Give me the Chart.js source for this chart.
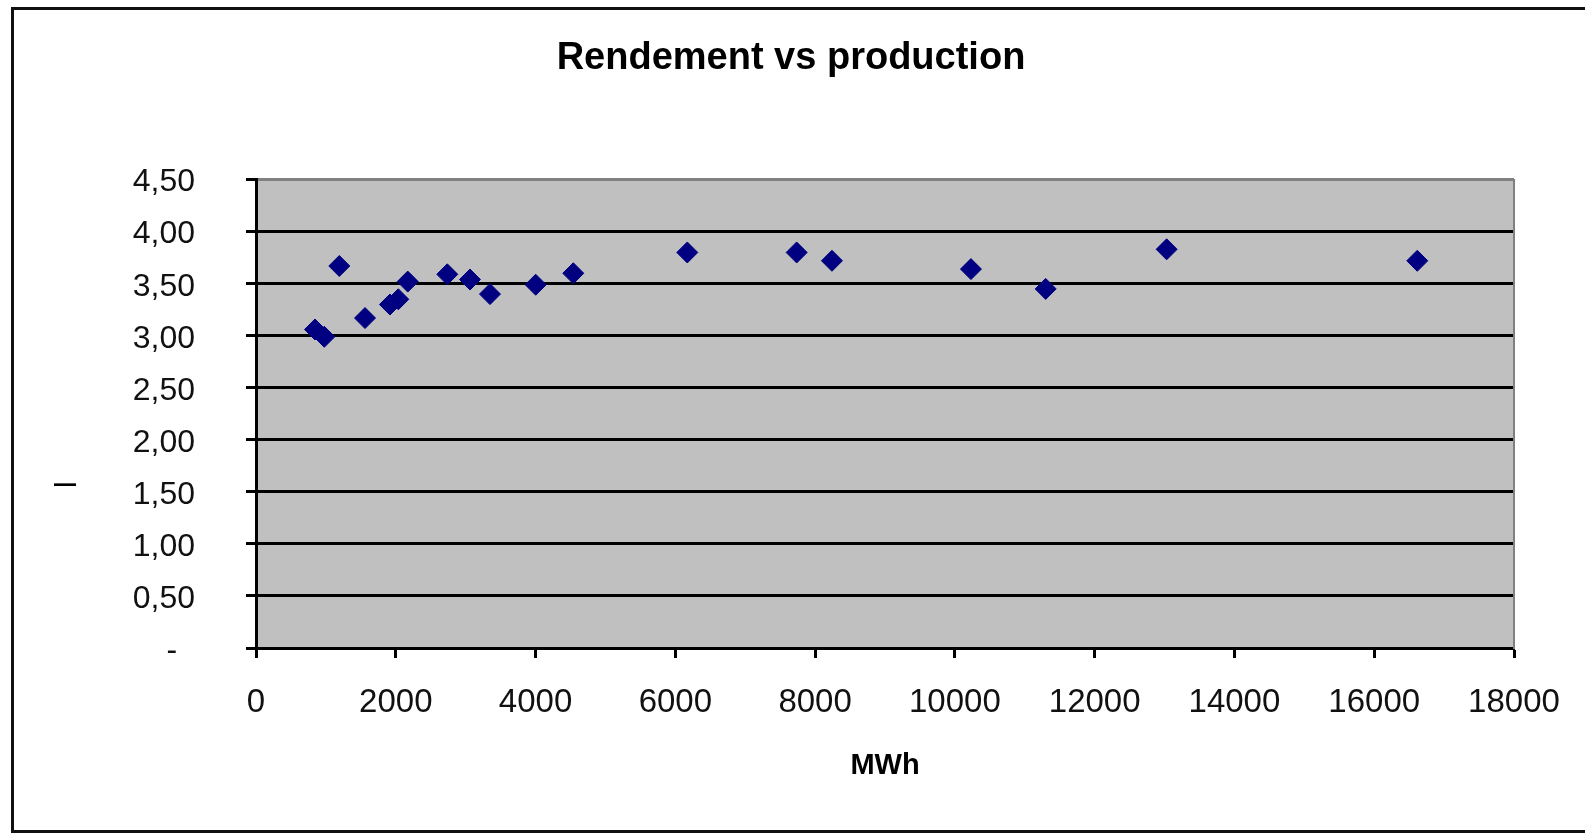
<!DOCTYPE html>
<html>
<head>
<meta charset="utf-8">
<title>Rendement vs production</title>
<script src="https://cdn.jsdelivr.net/npm/chart.js@4.4.1/dist/chart.umd.min.js"></script>
<style>
  html, body { margin: 0; padding: 0; background: #fff; overflow: hidden; }
  .frame { position: absolute; left: 11px; top: 7px; width: 1620px; height: 826px; border: 3px solid #111; box-sizing: border-box; }
  .wrap { position: absolute; left: 0; top: 0; width: 1585px; height: 833px; }
</style>
</head>
<body>
<div class="frame"></div>
<div class="wrap"><canvas id="chart"></canvas></div>
<script>
// production (MWh) and rendement, one entry per site
const productionMWh = [844, 977, 1192, 1560, 1917, 2036, 2171, 2737, 3062, 3348, 4002, 4540, 6171, 7736, 8241, 10230, 11299, 13030, 16616]
const rendement = [3.06, 2.99, 3.67, 3.17, 3.30, 3.35, 3.52, 3.59, 3.54, 3.40, 3.49, 3.60, 3.80, 3.80, 3.72, 3.64, 3.45, 3.83, 3.72]

const xTickValues = [0, 2000, 4000, 6000, 8000, 10000, 12000, 14000, 16000, 18000]
const yTickValues = [0, 0.5, 1, 1.5, 2, 2.5, 3, 3.5, 4, 4.5]
const yTickLabels = ['-  ', '0,50', '1,00', '1,50', '2,00', '2,50', '3,00', '3,50', '4,00', '4,50']

const fontFamily = '"Liberation Sans", Arial, sans-serif'
const plotGrey = '#c0c0c0'
const borderGrey = '#808080'

const plotBackground = {
  id: 'plotBackground',
  beforeDraw: (chart) => {
    const { ctx, chartArea } = chart
    ctx.save()
    ctx.fillStyle = plotGrey
    ctx.fillRect(chartArea.left, chartArea.top, chartArea.right - chartArea.left, chartArea.bottom - chartArea.top)
    ctx.restore()
  }
}

const data = {
  datasets: [{
    label: 'Rendement',
    data: productionMWh.map((x, i) => ({ x, y: rendement[i] })),
    pointStyle: 'rectRot',
    pointRadius: 10.5,
    pointHoverRadius: 10.5,
    borderWidth: 1,
    backgroundColor: '#000080',
    borderColor: '#000080',
    showLine: false
  }]
}

const options = {
  responsive: true,
  maintainAspectRatio: false,
  animation: false,
  events: [],
  layout: {
    padding: { left: 14, right: 17, top: 0, bottom: 0 }
  },
  plugins: {
    legend: { display: false },
    tooltip: { enabled: false },
    title: {
      display: true,
      text: 'Rendement vs production',
      color: '#000',
      font: { family: fontFamily, size: 38, weight: 'bold' },
      padding: { top: 36, bottom: 98 }
    }
  },
  scales: {
    x: {
      type: 'linear',
      position: 'bottom',
      min: 0,
      max: 18000,
      afterBuildTicks: (scale) => { scale.ticks = xTickValues.map(value => ({ value })) },
      afterFit: (scale) => { scale.height = 185 },
      ticks: {
        padding: 25,
        color: '#111',
        font: { family: fontFamily, size: 33 },
        callback: (value) => String(value)
      },
      grid: {
        drawOnChartArea: false,
        drawTicks: true,
        tickLength: 10,
        tickWidth: 3,
        tickColor: '#000'
      },
      border: { display: true, color: '#000', width: 3 },
      title: {
        display: true,
        text: 'MWh',
        color: '#000',
        font: { family: fontFamily, size: 29, weight: 'bold' },
        padding: { top: 0, bottom: 50 }
      }
    },
    x2: {
      type: 'linear',
      position: 'top',
      min: 0,
      max: 18000,
      afterFit: (scale) => { scale.height = 0 },
      ticks: { display: false },
      grid: { drawOnChartArea: false, drawTicks: false },
      border: { display: true, color: borderGrey, width: 2 }
    },
    y: {
      type: 'linear',
      position: 'left',
      min: 0,
      max: 4.5,
      afterBuildTicks: (scale) => { scale.ticks = yTickValues.map(value => ({ value })) },
      afterFit: (scale) => { scale.width = 242 },
      ticks: {
        padding: 51,
        labelOffset: 3,
        color: '#111',
        font: { family: fontFamily, size: 32 },
        callback: (value, index) => yTickLabels[index]
      },
      grid: {
        color: (ctx) => ctx.tick && ctx.tick.value === 4.5 ? borderGrey : '#000',
        lineWidth: 3,
        drawTicks: true,
        tickLength: 10,
        tickWidth: 3,
        tickColor: '#000'
      },
      border: { display: true, color: '#000', width: 3 },
      title: {
        display: true,
        // trailing spaces push the rotated label down, as in the original
        text: 'l' + '\u00a0'.repeat(17),
        color: '#000',
        font: { family: fontFamily, size: 30 },
        padding: { top: 36, bottom: 0 }
      }
    },
    y2: {
      type: 'linear',
      position: 'right',
      min: 0,
      max: 4.5,
      afterFit: (scale) => { scale.width = 54 },
      ticks: { display: false },
      grid: { drawOnChartArea: false, drawTicks: false },
      border: { display: true, color: borderGrey, width: 2 }
    }
  }
}

const chart = new Chart(document.querySelector('#chart'), {
  type: 'scatter',
  data,
  options,
  plugins: [plotBackground]
})
</script>
</body>
</html>
